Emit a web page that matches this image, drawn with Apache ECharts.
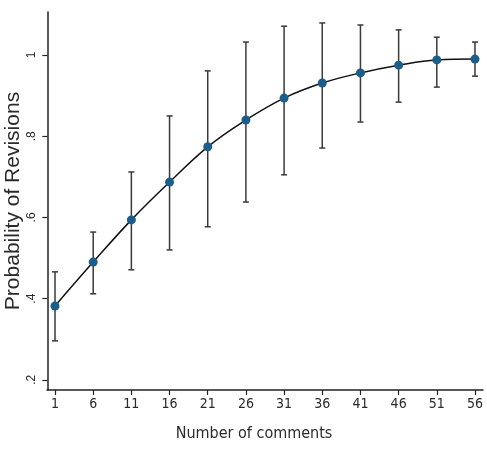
<!DOCTYPE html>
<html>
<head>
<meta charset="utf-8">
<style>
    html, body { margin: 0; padding: 0; background: #fff; }
    #chart { width: 487px; height: 456px; }
</style>
<script src="https://cdn.jsdelivr.net/npm/echarts@6/dist/echarts.min.js"></script>
</head>
<body>
<div id="chart"></div>
<script>
// 数据
const xValues = [1, 6, 11, 16, 21, 26, 31, 36, 41, 46, 51, 56];
const probValues = [0.382, 0.490, 0.594, 0.687, 0.774, 0.840, 0.894, 0.931, 0.956, 0.975, 0.988, 0.990];
const lowerValues = [0.296, 0.412, 0.471, 0.520, 0.577, 0.638, 0.705, 0.771, 0.835, 0.884, 0.921, 0.948];
const upperValues = [0.466, 0.564, 0.712, 0.850, 0.961, 1.032, 1.071, 1.079, 1.074, 1.062, 1.044, 1.032];
const xTicks = [1, 6, 11, 16, 21, 26, 31, 36, 41, 46, 51, 56];
const yTicks = [0.2, 0.4, 0.6, 0.8, 1];

(function () {
    let chart = echarts.init(document.querySelector("#chart"));

    const narrow = "'Liberation Sans Narrow', 'DejaVu Sans Condensed', 'Liberation Sans', sans-serif";
    const textColor = "#2b2b2b";

    let lineData = xValues.map((x, i) => [x, probValues[i]]);
    let errData = xValues.map((x, i) => [x, lowerValues[i], upperValues[i]]);

    let option = {
        backgroundColor: "#fff",
        animation: false,
        grid: {
            left: 47,
            right: 4,
            top: 12,
            bottom: 66,
            outerBoundsMode: "none"
        },
        xAxis: {
            type: "value",
            min: -0.05,
            max: 57.05,
            name: "Number of comments",
            nameLocation: "middle",
            nameGap: 36,
            nameMoveOverlap: false,
            nameTextStyle: {
                fontFamily: narrow,
                fontSize: 16,
                color: textColor,
                padding: [0, 22, 0, 0]
            },
            splitLine: { show: false },
            axisLine: { lineStyle: { color: "#222", width: 1.5 } },
            axisTick: {
                length: 5,
                customValues: xTicks,
                lineStyle: { color: "#222", width: 1.2 }
            },
            axisLabel: {
                customValues: xTicks,
                margin: 7,
                fontFamily: narrow,
                fontSize: 14,
                color: textColor
            }
        },
        yAxis: {
            type: "value",
            min: 0.175,
            max: 1.106,
            name: "Probability of Revisions",
            nameLocation: "middle",
            nameGap: 23,
            nameMoveOverlap: false,
            nameTextStyle: {
                fontFamily: "'Liberation Sans', Arial, sans-serif",
                fontSize: 21,
                color: textColor
            },
            splitLine: { show: false },
            axisLine: { show: true, lineStyle: { color: "#222", width: 1.5 } },
            axisTick: {
                show: true,
                length: 5,
                customValues: yTicks,
                lineStyle: { color: "#222", width: 1.2 }
            },
            axisLabel: {
                customValues: yTicks,
                rotate: 90,
                margin: 9,
                fontFamily: "'Liberation Sans', Arial, sans-serif",
                fontSize: 12,
                color: textColor,
                formatter: v => (v === 1 ? "1" : String(v).replace("0.", "."))
            }
        },
        series: [
            {
                // 误差线
                type: "custom",
                data: errData,
                z: 2,
                renderItem: function (params, api) {
                    const x = api.value(0);
                    const lo = api.coord([x, api.value(1)]);
                    const hi = api.coord([x, api.value(2)]);
                    const w = 3;
                    const style = { stroke: "#3a3a3a", lineWidth: 1.5 };
                    return {
                        type: "group",
                        children: [
                            { type: "line", shape: { x1: lo[0], y1: lo[1], x2: hi[0], y2: hi[1] }, style: style },
                            { type: "line", shape: { x1: hi[0] - w, y1: hi[1], x2: hi[0] + w, y2: hi[1] }, style: style },
                            { type: "line", shape: { x1: lo[0] - w, y1: lo[1], x2: lo[0] + w, y2: lo[1] }, style: style }
                        ]
                    };
                }
            },
            {
                type: "line",
                data: lineData,
                smooth: 0.4,
                z: 3,
                symbol: "circle",
                symbolSize: 9,
                lineStyle: { color: "#111", width: 1.5 },
                itemStyle: { color: "#1c5d8a" }
            }
        ]
    };

    chart.setOption(option);

    window.addEventListener('resize', () => chart.resize());
})();
</script>
</body>
</html>
